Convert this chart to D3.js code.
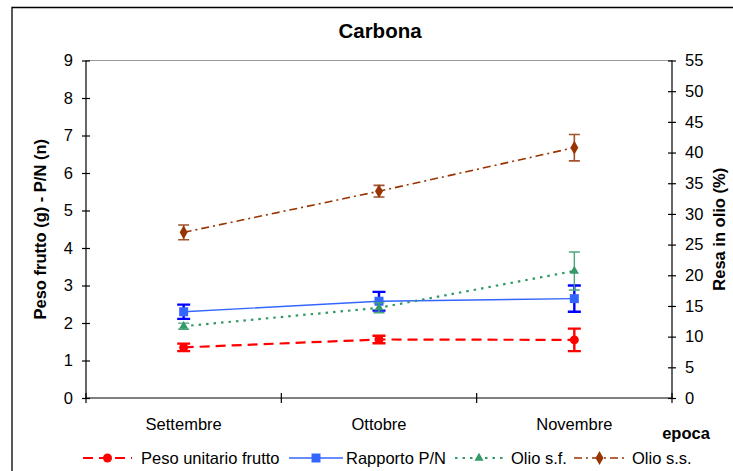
<!DOCTYPE html>
<html>
<head>
<meta charset="utf-8">
<script src="https://cdn.jsdelivr.net/npm/d3@7"></script>
<style>
  html, body { margin: 0; padding: 0; background: #fff; }
  svg { display: block; font-family: "Liberation Sans", Arial, sans-serif; }
</style>
</head>
<body>
<svg id="chart" width="733" height="471"></svg>
<script>
// Harvest periods
const categories = ["Settembre", "Ottobre", "Novembre"];

// Left axis series (g, n)
const pesoUnitario = [1.35, 1.56, 1.55];
const pesoUnitarioErr = [0.1, 0.1, 0.3];
const rapportoPN = [2.3, 2.58, 2.65];
const rapportoPNErr = [0.19, 0.25, 0.35];

// Right axis series (%)
const olioSF = [11.7, 14.7, 20.7];
const olioSFErr = [0.5, 0.8, 3.1];
const olioSS = [27.0, 33.7, 40.8];
const olioSSErr = [1.2, 0.95, 2.15];

const leftTicks = [0, 1, 2, 3, 4, 5, 6, 7, 8, 9];
const rightTicks = [0, 5, 10, 15, 20, 25, 30, 35, 40, 45, 50, 55];

const svg = d3.select("#chart");
const L = 86, R = 672, T = 60.5, B = 398;

const x = d3.scaleBand().domain(categories).range([L, R]).padding(0);
const cx = c => x(c) + x.bandwidth() / 2;
const yL = d3.scaleLinear().domain([0, 9]).range([B, T]);
const yR = d3.scaleLinear().domain([0, 55]).range([B, T]);

const fs = 16.5;

// Outer frame (only top and left edges fall inside the view)
svg.append("path")
  .attr("d", `M12,${471 + 5} L12,7.5 L${733 + 5},7.5`)
  .attr("fill", "none").attr("stroke", "#000").attr("stroke-width", 1.3);

// Title
svg.append("text").attr("x", 380).attr("y", 38).attr("text-anchor", "middle")
  .attr("font-weight", "bold").attr("font-size", 20.5).text("Carbona");

// Plot area top edge
svg.append("line").attr("x1", L).attr("x2", R).attr("y1", T).attr("y2", T)
  .attr("stroke", "#999").attr("stroke-width", 1);

// Left axis
const gL = svg.append("g").attr("transform", `translate(${L},0)`)
  .call(d3.axisLeft(yL).tickValues(leftTicks).tickSize(4).tickPadding(9).tickFormat(d3.format("d")));
gL.selectAll(".tick line").attr("x1", 4);
gL.select(".domain").attr("d", `M0,${T}V${B}`);

// Right axis
const gR = svg.append("g").attr("transform", `translate(${R},0)`)
  .call(d3.axisRight(yR).tickValues(rightTicks).tickSize(4).tickPadding(9).tickFormat(d3.format("d")));
gR.selectAll(".tick line").attr("x1", -4);
gR.select(".domain").attr("d", `M0,${T}V${B}`);

// Bottom axis: category labels centred in bands, ticks at band edges
const gB = svg.append("g").attr("transform", `translate(0,${B})`)
  .call(d3.axisBottom(x).tickSize(0).tickPadding(20));
gB.select(".domain").attr("d", `M${L},0H${R}`);
const edges = categories.map(c => x(c)).concat([x.range()[1]]);
gB.selectAll(".edge").data(edges).enter().append("line")
  .attr("x1", d => d).attr("x2", d => d).attr("y1", -5).attr("y2", 5)
  .attr("stroke", "#000");

[gL, gR, gB].forEach(g => {
  g.selectAll("text").attr("font-size", fs).attr("font-family", "Liberation Sans, Arial, sans-serif").attr("fill", "#000");
  g.selectAll("line, path").attr("stroke", "#000").attr("stroke-width", 1.2);
});

// Axis titles
svg.append("text").attr("transform", `translate(46,${(T + B) / 2}) rotate(-90)`)
  .attr("text-anchor", "middle").attr("font-weight", "bold").attr("font-size", fs)
  .text("Peso frutto (g) - P/N (n)");
svg.append("text").attr("transform", `translate(725,${(T + B) / 2}) rotate(-90)`)
  .attr("text-anchor", "middle").attr("font-weight", "bold").attr("font-size", fs)
  .text("Resa in olio (%)");
svg.append("text").attr("x", 686).attr("y", 439).attr("text-anchor", "middle")
  .attr("font-weight", "bold").attr("font-size", fs).text("epoca");

// Series definitions
const series = [
  { name: "Peso unitario frutto", vals: pesoUnitario, err: pesoUnitarioErr, y: yL,
    color: "#ff0000", lw: 2.2, dash: "10,6", errColor: "#ff0000", errW: 2.4, cap: 13, marker: "circle", msize: 9, mcolor: "#ff0000" },
  { name: "Rapporto P/N", vals: rapportoPN, err: rapportoPNErr, y: yL,
    color: "#3366ff", lw: 1.4, dash: null, errColor: "#0000ff", errW: 2.4, cap: 13, marker: "square", msize: 9, mcolor: "#3366ff" },
  { name: "Olio s.f.", vals: olioSF, err: olioSFErr, y: yR,
    color: "#339966", lw: 2.2, dash: "2.5,5", errColor: "#4da57a", errW: 1.4, cap: 11, marker: "triangle", msize: 9, mcolor: "#339966" },
  { name: "Olio s.s.", vals: olioSS, err: olioSSErr, y: yR,
    color: "#993300", lw: 1.6, dash: "8,4,2,4", errColor: "#a0522d", errW: 1.6, cap: 11, marker: "diamond", msize: 10, mcolor: "#993300" }
];

const symbolType = { circle: d3.symbolCircle, square: d3.symbolSquare, triangle: d3.symbolTriangle, diamond: d3.symbolDiamond };

function markerPath(s) {
  const sz = s.msize;
  const area = s.marker === "circle" ? Math.PI * (sz / 2) * (sz / 2)
    : s.marker === "square" ? sz * sz
    : s.marker === "triangle" ? sz * sz * 0.45
    : sz * sz * 0.55;
  return d3.symbol().type(symbolType[s.marker]).size(area)();
}

series.forEach(s => {
  const g = svg.append("g");
  const line = d3.line().x((d, i) => cx(categories[i])).y(d => s.y(d));
  g.append("path").attr("d", line(s.vals)).attr("fill", "none")
    .attr("stroke", s.color).attr("stroke-width", s.lw)
    .attr("stroke-dasharray", s.dash);
  // Error bars
  s.vals.forEach((v, i) => {
    const px = cx(categories[i]);
    const y1 = s.y(v + s.err[i]), y0 = s.y(v - s.err[i]);
    g.append("path")
      .attr("d", `M${px},${y1}V${y0}M${px - s.cap / 2},${y1}H${px + s.cap / 2}M${px - s.cap / 2},${y0}H${px + s.cap / 2}`)
      .attr("stroke", s.errColor).attr("stroke-width", s.errW).attr("fill", "none");
  });
  // Markers
  g.selectAll(".m").data(s.vals).enter().append("path")
    .attr("transform", (d, i) => `translate(${cx(categories[i])},${s.y(d)})`)
    .attr("d", markerPath(s)).attr("fill", s.mcolor);
});

// Legend
const legendY = 458;
const legendItems = [
  { s: series[0], x0: 83, x1: 132, tx: 141 },
  { s: series[1], x0: 289, x1: 343, tx: 346 },
  { s: series[2], x0: 455, x1: 503, tx: 511 },
  { s: series[3], x0: 574, x1: 625, tx: 632 }
];
legendItems.forEach(it => {
  const s = it.s;
  svg.append("line").attr("x1", it.x0).attr("x2", it.x1).attr("y1", legendY).attr("y2", legendY)
    .attr("stroke", s.color).attr("stroke-width", s.lw).attr("stroke-dasharray", s.dash);
  svg.append("path").attr("transform", `translate(${(it.x0 + it.x1) / 2},${legendY})`)
    .attr("d", markerPath(s)).attr("fill", s.mcolor);
  svg.append("text").attr("x", it.tx).attr("y", legendY + 6).attr("font-size", fs).text(s.name);
});
</script>
</body>
</html>
